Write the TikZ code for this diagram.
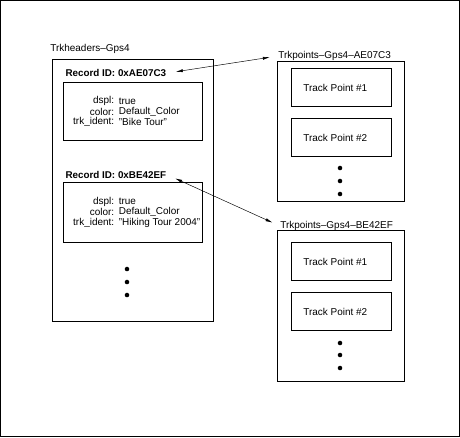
\documentclass[tikz,border=0pt]{standalone}
\usepackage{fontspec}
\setmainfont{Liberation Sans}
\usetikzlibrary{arrows.meta}

\begin{document}
\begin{tikzpicture}[x=0.03cm, y=-0.03cm, line width=0.6pt,
    font=\fontsize{8.5}{10}\selectfont,
    txt/.style={inner sep=0pt},
    idlabel/.style={right, inner sep=1pt, font=\fontsize{8.4}{10}\selectfont\bfseries},
    link/.style={{Latex[length=6pt,width=2.6pt]}-{Latex[length=6pt,width=2.6pt]}, line width=0.4pt, shorten <=7pt, shorten >=7pt}]

    \useasboundingbox (0,0) rectangle (460,437);
    \draw (0.5,0.5) rectangle (459.5,436.5);

    % Trkheaders
    \draw (52,59) rectangle (213,321);
    \node[txt, right] (H) at (50,49) {Trkheaders--Gps4};

    \node[idlabel] (RA) at (64,73) {Record ID: 0xAE07C3};
    \draw (63,82) rectangle (202,140);
    \foreach \k/\v [count=\i] in {dspl:/true, color:/Default\_Color, trk\_ident:/"Bike Tour"}{
            \node[txt, left] (KA\i) at (114.5,90.5+10.5*\i) {\k};
            \node[txt, right] (VA\i) at (118.5,90.5+10.5*\i) {\v};
        }

    \node[idlabel] (RB) at (64,175) {Record ID: 0xBE42EF};
    \draw (63,182) rectangle (202,242);
    \foreach \k/\v [count=\i] in {dspl:/true, color:/Default\_Color, trk\_ident:/"Hiking Tour 2004"}{
            \node[txt, left] (KB\i) at (114.5,191+10.5*\i) {\k};
            \node[txt, right] (VB\i) at (118.5,191+10.5*\i) {\v};
        }

    \foreach \y in {269, 282, 295}{
            \fill (127,\y) circle[radius=0.068cm];
        }

    % Trkpoints AE07C3
    \draw (277,61) rectangle (404,201);
    \node[txt, right] (PA) at (278,56) {Trkpoints--Gps4--AE07C3};
    \foreach \y [count=\i] in {68, 118}{
            \draw (291,\y) rectangle (391,\y+38);
            \node[txt, right] (TA\i) at (303,\y+19.5) {Track Point \#\i};
        }
    \foreach \y in {168, 181, 194}{
            \fill (340,\y) circle[radius=0.068cm];
        }

    % Trkpoints BE42EF
    \draw (277,230) rectangle (404,381);
    \node[txt, right] (PB) at (280,226) {Trkpoints--Gps4--BE42EF};
    \foreach \y [count=\i] in {242, 292}{
            \draw (291,\y) rectangle (391,\y+38);
            \node[txt, right] (TB\i) at (303,\y+19.5) {Track Point \#\i};
        }
    \foreach \y in {343, 355, 368}{
            \fill (340,\y) circle[radius=0.068cm];
        }

    \draw[link] (RA.east) -- (PA.west);
    \draw[link] (RB.east) -- (PB.west);

\end{tikzpicture}
\end{document}
